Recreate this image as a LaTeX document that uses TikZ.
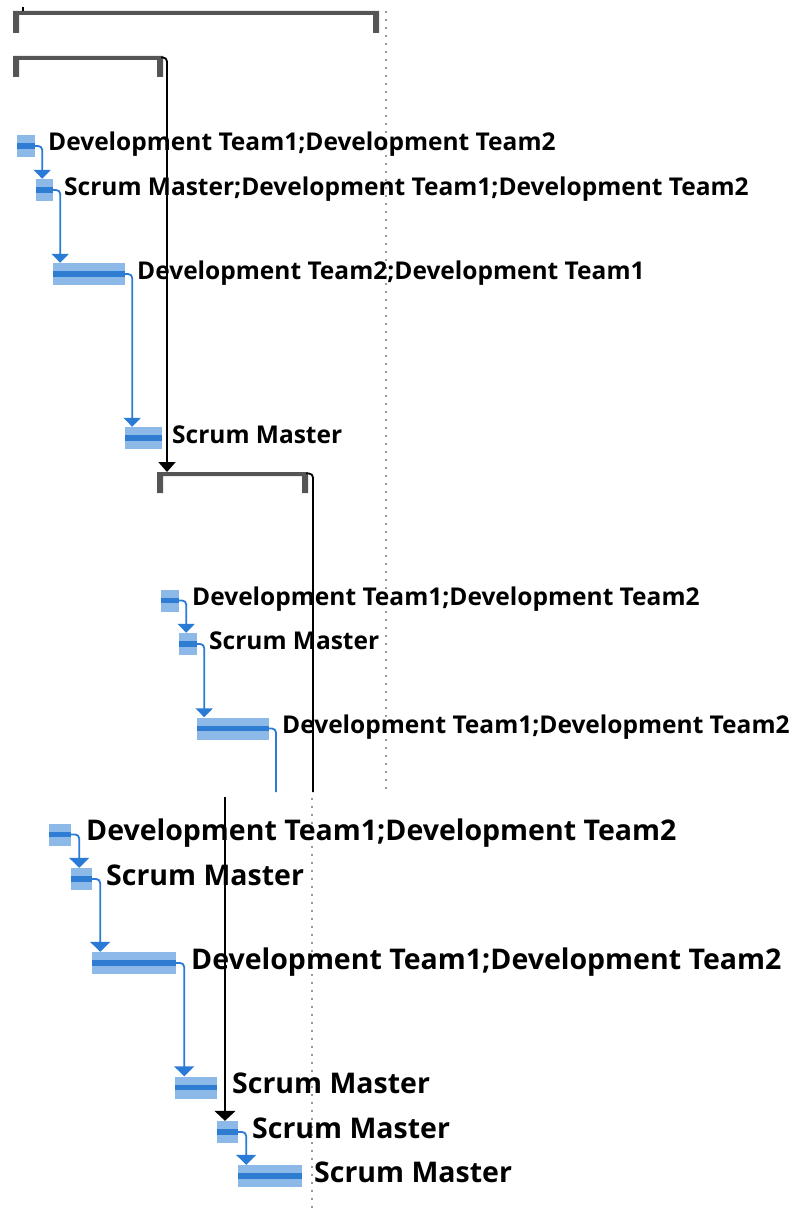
\documentclass[tikz,border=0pt]{standalone}
\usepackage{fontspec}
\setmainfont{Open Sans}
\usetikzlibrary{arrows.meta}

\definecolor{barlight}{HTML}{8CB9E8}
\definecolor{barstripe}{HTML}{2F7DD3}
\definecolor{linkblue}{HTML}{2A7BD5}
\definecolor{summgray}{HTML}{555555}
\definecolor{dotgray}{HTML}{999999}

\tikzset{
  bar/.style={rectangle, fill=barlight, draw=none, inner sep=0pt,
    minimum height=22pt,
    path picture={\fill[barstripe]
      ([yshift=-2.6pt]path picture bounding box.west) rectangle
      ([yshift=2.6pt]path picture bounding box.east);}},
  lbl/.style={anchor=base west, inner sep=0pt, font=\bfseries\fontsize{24.5}{27}\selectfont},
  lblbig/.style={anchor=base west, inner sep=0pt, font=\bfseries\fontsize{28.5}{31}\selectfont},
  link/.style={draw=linkblue, line width=1.8pt, rounded corners=4pt,
    -{Triangle[width=17pt,length=9pt]}, fill=none},
  linkbig/.style={link, -{Triangle[width=20pt,length=10pt]}},
  dep/.style={draw=black, line width=1.8pt, rounded corners=4pt,
    -{Triangle[width=17pt,length=10pt]}},
  depbig/.style={dep, -{Triangle[width=21pt,length=10pt]}},
  depline/.style={draw=black, line width=1.8pt, rounded corners=4pt},
  summ/.style={fill=summgray, draw=none},
  gridline/.style={draw=dotgray, line width=1.8pt, dash pattern=on 1.8pt off 6.2pt},
}

\begin{document}
\begin{tikzpicture}[x=1pt, y=-1pt]
\useasboundingbox (0,0) rectangle (808,1212);

% time-scale grid lines
\draw[gridline] (386,11) -- (386,791);
\draw[gridline] (312,798) -- (312,1210);

% summary brackets
\fill[summ] (13,11) -- (379,11) -- (379,33) -- (373,33) -- (373,15)
  -- (19,15) -- (19,33) -- (13,33) -- cycle;
\draw[black, line width=1.2pt] (23,7.5) -- (23,11);
\fill[summ] (13,56) -- (163,56) -- (163,77) -- (157,77) -- (157,60)
  -- (19,60) -- (19,77) -- (13,77) -- cycle;
\fill[summ] (157,472) -- (308,472) -- (308,493) -- (302,493) -- (302,476)
  -- (163,476) -- (163,493) -- (157,493) -- cycle;
\coordinate (s2end) at (161,57.5);
\coordinate (s3in) at (167,472);
\coordinate (s3end) at (306,473.5);
\coordinate (cutA) at (313,792);
\coordinate (cutB) at (276,792);
\coordinate (cutC) at (225,797);

% first phase tasks
\node[bar, minimum width=18pt] (tA) at (26,146) {};
\node[bar, minimum width=17pt] (tB) at (44.5,190) {};
\node[bar, minimum width=72pt] (tC) at (89,274) {};
\node[bar, minimum width=37pt] (tD) at (143.5,438) {};

% second phase tasks
\node[bar, minimum width=18pt] (tE) at (170,600.5) {};
\node[bar, minimum width=18pt] (tF) at (188,644) {};
\node[bar, minimum width=72pt] (tG) at (233,728.5) {};

% third phase tasks
\node[bar, minimum width=22pt] (tH) at (60,834.5) {};
\node[bar, minimum width=21pt] (tI) at (81.5,879) {};
\node[bar, minimum width=84pt] (tJ) at (134,963) {};
\node[bar, minimum width=42pt] (tK) at (196,1087.5) {};
\node[bar, minimum width=21pt] (tL) at (227.5,1132) {};
\node[bar, minimum width=64pt] (tM) at (270,1176) {};

% resource labels
\node[lbl] (lA) at (48,150) {Development Team1;Development Team2};
\node[lbl] (lB) at (64,195) {Scrum Master;Development Team1;Development Team2};
\node[lbl] (lC) at (137,279) {Development Team2;Development Team1};
\node[lbl] (lD) at (172,443) {Scrum Master};
\node[lbl] (lE) at (192,605) {Development Team1;Development Team2};
\node[lbl] (lF) at (209,649) {Scrum Master};
\node[lbl] (lG) at (282,733) {Development Team1;Development Team2};
\node[lblbig] (lH) at (86,840) {Development Team1;Development Team2};
\node[lblbig] (lI) at (106,885) {Scrum Master};
\node[lblbig] (lJ) at (191,969) {Development Team1;Development Team2};
\node[lblbig] (lK) at (232,1093) {Scrum Master};
\node[lblbig] (lL) at (252,1138) {Scrum Master};
\node[lblbig] (lM) at (314,1182) {Scrum Master};

% finish-to-start links
\foreach \a/\b in {tA/tB, tB/tC, tC/tD, tE/tF, tF/tG}{
  \path (\a.east) ++(7,0) coordinate (\a-r);
  \draw[link] (\a.east) -| (\a-r |- \b.north);
}
\foreach \a/\b in {tH/tI, tI/tJ, tJ/tK, tL/tM}{
  \path (\a.east) ++(8,0) coordinate (\a-r);
  \draw[linkbig] (\a.east) -| (\a-r |- \b.north);
}
\draw[link, -] (tG.east) -| (cutB);

% phase-to-phase links
\draw[dep] (s2end) -| (s3in);
\draw[depline] (s3end) -| (cutA);
\draw[depbig] (cutC) -- (cutC |- tL.north);
\end{tikzpicture}
\end{document}
